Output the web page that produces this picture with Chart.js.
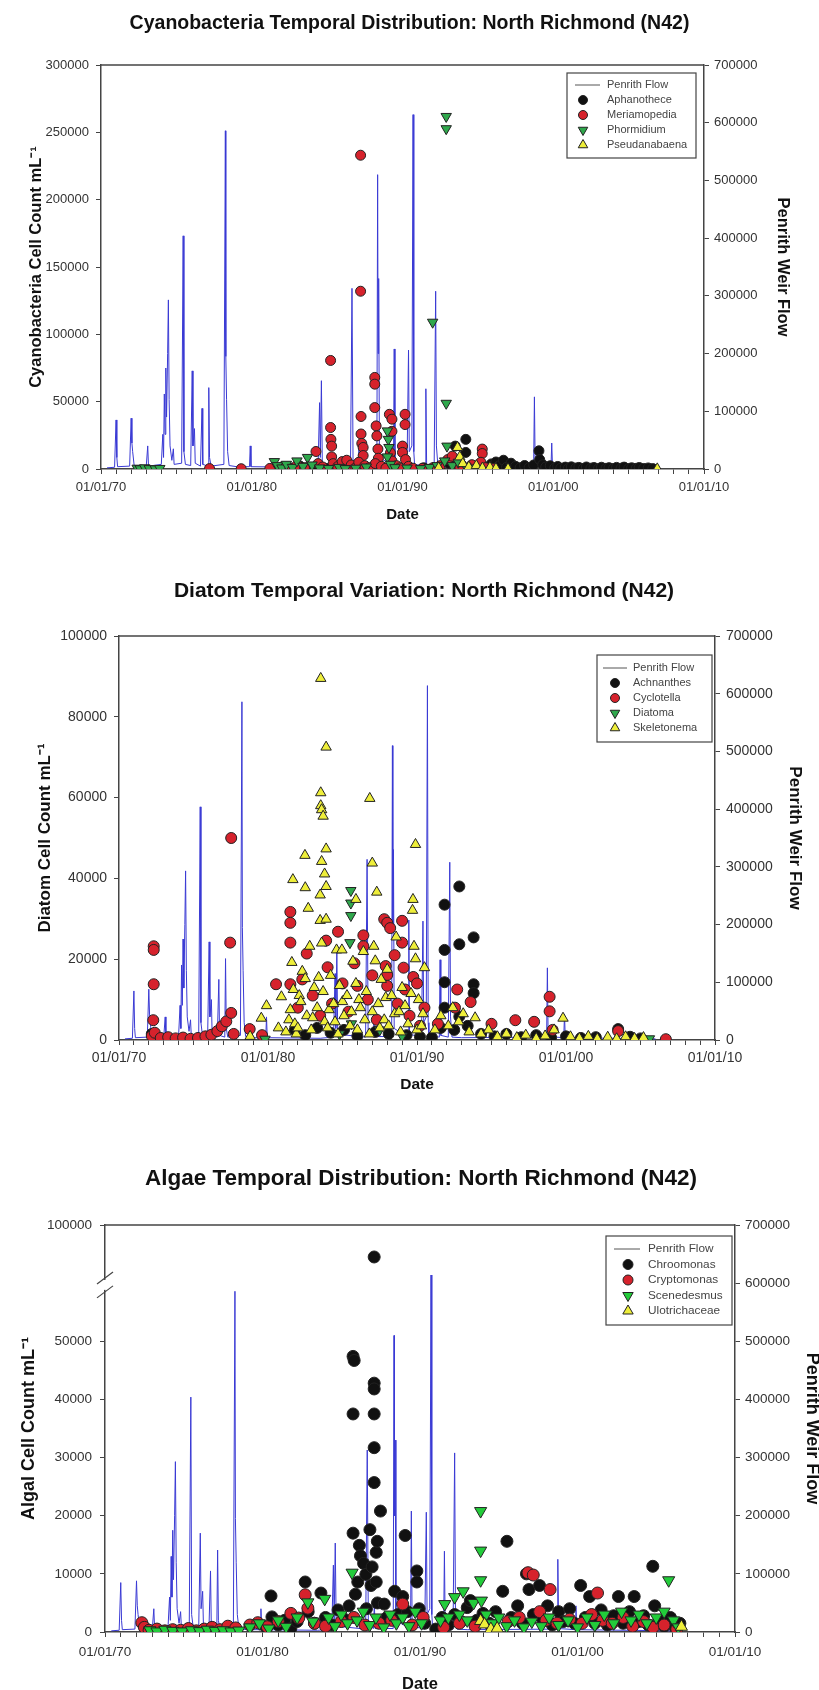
<!DOCTYPE html>
<html>
<head>
<meta charset="utf-8">
<script src="https://cdn.jsdelivr.net/npm/chart.js@4.4.1/dist/chart.umd.min.js"></script>
<style>
  body { margin: 0; background: #fff; width: 819px; height: 1690px; overflow: hidden; position: relative; }
  canvas { position: absolute; left: 0; }
</style>
</head>
<body>
<canvas id="cyano" width="819" height="530" style="top:0px"></canvas>
<canvas id="diatom" width="819" height="570" style="top:530px"></canvas>
<canvas id="algae" width="819" height="590" style="top:1100px"></canvas>
<script>
// x values are decimal years, y values are cells per mL (flow in right axis units)

// PENRITH WEIR FLOW (same series on all three charts)
const penrithFlow = [
  [1970.4, 2000], [1970.9, 3000], [1971.0, 85000], [1971.05, 20000], [1971.1, 4000],
  [1971.9, 5000], [1972.0, 88000], [1972.05, 45000], [1972.1, 30000], [1972.2, 6000],
  [1973.0, 4000], [1973.1, 40000], [1973.15, 5000],
  [1974.0, 8000], [1974.1, 60000], [1974.15, 20000], [1974.2, 130000], [1974.25, 60000], [1974.3, 175000],
  [1974.35, 90000], [1974.42, 200000], [1974.47, 293000], [1974.52, 120000], [1974.58, 40000],
  [1974.7, 15000], [1974.8, 35000], [1974.85, 8000],
  [1975.35, 10000], [1975.45, 404000], [1975.5, 30000], [1975.6, 8000],
  [1975.95, 6000], [1976.05, 170000], [1976.1, 40000], [1976.2, 70000], [1976.25, 10000],
  [1976.6, 5000], [1976.7, 105000], [1976.75, 8000],
  [1977.1, 5000], [1977.15, 141000], [1977.2, 20000], [1977.3, 5000],
  [1978.15, 8000], [1978.25, 586000], [1978.28, 195000], [1978.33, 120000], [1978.4, 30000], [1978.5, 6000],
  [1979.0, 4000], [1979.85, 4000], [1979.9, 40000], [1979.95, 4000], [1983.5, 3000],
  [1984.4, 5000], [1984.5, 115000], [1984.55, 20000], [1984.62, 153000], [1984.68, 10000],
  [1986.55, 5000], [1986.65, 313000], [1986.72, 12000], [1987.05, 6000], [1987.1, 50000], [1987.15, 6000],
  [1988.3, 6000], [1988.35, 510000], [1988.38, 200000], [1988.42, 330000], [1988.47, 20000],
  [1989.4, 5000], [1989.45, 208000], [1989.5, 10000],
  [1990.3, 5000], [1990.4, 206000], [1990.45, 30000], [1990.62, 40000], [1990.7, 614000], [1990.75, 30000], [1990.8, 8000],
  [1991.5, 5000], [1991.55, 139000], [1991.6, 8000],
  [1992.1, 5000], [1992.2, 308000], [1992.25, 40000], [1992.35, 5000],
  [1993.0, 4000], [1998.7, 5000], [1998.75, 125000], [1998.8, 6000],
  [1999.85, 4000], [1999.9, 45000], [1999.95, 4000], [2006.0, 2000]
];

// CYANOBACTERIA
const cyanoAphanothece = [
  [1981.9, 600], [1982.4, 1400], [1982.8, 300], [1983.2, 2200], [1983.6, 800], [1984.1, 1200], [1984.9, 500],
  [1985.7, 900], [1986.5, 400], [1987.7, 700], [1988.9, 300], [1990.5, 500], [1991.4, 900], [1992.5, 1500], [1993.1, 4000],
  [1993.5, 17000], [1994.2, 22000], [1994.2, 12300], [1993.9, 3500], [1994.5, 1800], [1994.9, 600],
  [1995.6, 1500], [1995.9, 3800], [1996.2, 5200], [1996.4, 2400], [1996.7, 6500], [1996.9, 1200], [1997.2, 4300],
  [1997.5, 2000], [1997.8, 900], [1998.1, 2600], [1998.4, 1100], [1998.7, 3000], [1999.05, 13500], [1999.1, 7000],
  [1999.3, 3200], [1999.5, 1500], [1999.8, 2400], [2000.1, 800], [2000.3, 1900], [2000.5, 600], [2000.8, 1400],
  [2001.0, 500], [2001.2, 1600], [2001.5, 700], [2001.7, 1200], [2002.0, 400], [2002.2, 1500], [2002.5, 600],
  [2002.7, 1100], [2003.0, 300], [2003.2, 1300], [2003.5, 500], [2003.7, 1000], [2004.0, 400], [2004.2, 1200],
  [2004.5, 600], [2004.7, 1400], [2005.0, 300], [2005.2, 900], [2005.5, 500], [2005.7, 1100], [2006.0, 400],
  [2006.3, 800], [2006.6, 300]
];
const cyanoMeriamopedia = [
  [1977.2, 300], [1979.3, 200], [1981.2, 400], [1982.0, 1500], [1982.6, 600], [1983.0, 2800], [1983.5, 900],
  [1984.26, 13000], [1984.4, 4000], [1984.7, 1500],
  [1985.23, 80600], [1985.23, 30800], [1985.25, 22000], [1985.3, 17000], [1985.3, 9000], [1985.4, 4000],
  [1985.7, 1800], [1986.0, 5500], [1986.3, 6500], [1986.6, 3000], [1986.9, 1000],
  [1987.22, 233000], [1987.22, 132000], [1987.25, 39000], [1987.25, 26000], [1987.3, 19000], [1987.39, 16000],
  [1987.39, 10000], [1987.1, 5000], [1987.5, 2500], [1987.8, 1000],
  [1988.16, 68000], [1988.16, 63000], [1988.16, 45600], [1988.25, 32000], [1988.3, 24600], [1988.37, 14800],
  [1988.4, 8000], [1988.2, 4000], [1988.6, 2000], [1988.9, 600],
  [1989.13, 40600], [1989.3, 37000], [1989.3, 28000], [1989.2, 12000], [1989.3, 6000], [1989.6, 2500], [1989.8, 800],
  [1990.0, 17000], [1990.0, 12300], [1990.17, 40600], [1990.17, 33000], [1990.2, 7000], [1990.4, 2000], [1990.7, 600],
  [1991.3, 400], [1992.0, 900], [1992.5, 2500], [1993.0, 7000], [1993.3, 9500], [1993.8, 1500], [1994.6, 3200],
  [1995.29, 14800], [1995.29, 11500], [1995.2, 5000], [1995.5, 1000], [1996.0, 300]
];
const cyanoPhormidium = [
  [1972.4, 600], [1972.6, 200], [1972.9, 900], [1973.2, 300], [1973.6, 100], [1973.9, 400],
  [1981.5, 5500], [1981.7, 2500], [1982.0, 800], [1982.3, 3500], [1982.7, 1200], [1983.0, 6000], [1983.4, 2000],
  [1983.7, 8600], [1984.0, 3000], [1984.5, 800], [1985.1, 400], [1985.8, 1200], [1986.2, 300], [1986.9, 600], [1987.6, 1500],
  [1989.0, 28300], [1989.06, 22000], [1989.1, 16000], [1989.0, 9000], [1989.2, 3500], [1989.5, 1000], [1990.3, 700],
  [1991.2, 300], [1991.8, 1200], [1992.0, 109000], [1992.3, 2500],
  [1992.9, 261800], [1992.9, 252700], [1992.9, 48800], [1992.95, 17000], [1992.8, 6000], [1993.3, 2500],
  [1993.7, 5000], [1994.2, 2000], [1994.7, 800]
];
const cyanoPseudanabaena = [
  [1992.4, 800], [1993.65, 16000], [1993.8, 9000], [1994.0, 4000], [1994.4, 1500], [1994.9, 2500], [1995.3, 700],
  [1995.8, 1200], [1996.2, 400], [1997.0, 200], [2006.9, 100]
];

// DIATOMS
const diatomAchnanthes = [
  [1972.2, 1500], [1972.5, 800], [1981.8, 2500], [1982.5, 1200], [1983.3, 3000], [1984.2, 1800], [1985.1, 2500],
  [1986.0, 1000], [1987.2, 2000], [1988.1, 1500], [1989.3, 1200], [1990.2, 800], [1991.0, 600],
  [1991.85, 33500], [1991.85, 22300], [1991.85, 14300], [1991.85, 8000], [1991.6, 3000],
  [1992.84, 38000], [1992.84, 23700], [1992.84, 5800], [1992.5, 2500],
  [1993.8, 25400], [1993.8, 13800], [1993.8, 11600], [1993.4, 3500], [1994.3, 1500], [1995.2, 900], [1996.0, 1500],
  [1997.0, 700], [1998.0, 1200], [1999.0, 600], [2000.0, 900], [2001.0, 500], [2002.0, 700], [2003.5, 2700],
  [2004.3, 800], [2005.0, 400]
];
const diatomCyclotella = [
  [1972.2, 1000], [1972.33, 23200], [1972.33, 22300], [1972.33, 13800], [1972.3, 4900], [1972.4, 1800], [1972.8, 500],
  [1973.3, 700], [1973.8, 400], [1974.3, 600], [1974.8, 300], [1975.3, 500], [1975.8, 900], [1976.2, 1300],
  [1976.6, 2200], [1976.9, 3400], [1977.2, 4600], [1977.46, 24100], [1977.53, 50000], [1977.53, 6700], [1977.7, 1500],
  [1978.77, 2700], [1979.6, 1200], [1980.54, 13800], [1981.5, 31700], [1981.5, 29000], [1981.5, 24100], [1981.5, 13800],
  [1982.0, 8000], [1982.3, 15000], [1982.6, 21400], [1983.0, 11000], [1983.5, 6000], [1983.9, 24600], [1984.0, 18000],
  [1984.3, 9000], [1984.7, 26800], [1985.0, 14000], [1985.4, 7000], [1985.8, 19000], [1986.0, 13400], [1986.4, 25900],
  [1986.4, 23200], [1986.7, 10000], [1987.0, 16000], [1987.3, 5000], [1987.8, 29900], [1988.0, 29000], [1988.2, 27700],
  [1987.9, 18300], [1988.0, 16100], [1988.0, 13400], [1988.5, 21000], [1988.7, 9000], [1989.0, 29500], [1989.0, 24100],
  [1989.1, 17900], [1989.2, 12500], [1989.5, 6000], [1989.75, 15600], [1990.0, 14000], [1990.2, 3500], [1990.5, 8000],
  [1991.4, 4000], [1992.55, 8000], [1992.7, 12500], [1993.6, 9400], [1995.0, 4000], [1996.6, 4900], [1997.86, 4500],
  [1998.9, 10700], [1998.9, 7100], [1999.1, 2500], [2003.5, 2200], [2006.7, 200]
];
const diatomDiatoma = [
  [1979.8, 200], [1984.8, 1500], [1985.56, 37000], [1985.56, 33900], [1985.56, 30800], [1985.5, 24100], [1985.6, 4000],
  [1987.5, 2500], [1989.0, 1000], [2005.6, 300]
];
const diatomSkeletonema = [
  [1978.8, 900], [1979.55, 5400], [1979.9, 8500], [1980.7, 3000], [1980.9, 10700], [1981.2, 2000], [1981.4, 5000],
  [1981.67, 39700], [1981.6, 19200], [1981.7, 12500], [1981.5, 7500], [1981.8, 4000], [1981.9, 1500],
  [1982.0, 3000], [1982.1, 11000], [1982.48, 45700], [1982.5, 37700], [1982.7, 32600], [1982.8, 23200], [1982.3, 17000],
  [1982.5, 15200], [1982.2, 9500], [1982.6, 6000], [1982.9, 2500], [1983.0, 5500], [1983.1, 13000],
  [1983.54, 89500], [1983.9, 72500], [1983.54, 61200], [1983.54, 58000], [1983.6, 57000], [1983.7, 55400], [1983.9, 47300],
  [1983.6, 44200], [1983.8, 41100], [1983.9, 38000], [1983.5, 35900], [1983.5, 29600], [1983.9, 29900], [1983.6, 24000],
  [1983.4, 15500], [1983.7, 12000], [1983.3, 8000], [1983.8, 4500], [1984.0, 3000], [1984.1, 7500],
  [1984.2, 16000], [1984.4, 9000], [1984.5, 4500], [1984.6, 22300], [1984.7, 1500], [1984.8, 13500], [1984.96, 22300],
  [1985.0, 9500], [1985.1, 6000], [1985.3, 11000], [1985.5, 3500], [1985.6, 7000], [1985.7, 19500], [1985.9, 34800],
  [1985.9, 14000], [1986.0, 2500], [1986.1, 10000], [1986.2, 8000], [1986.4, 21900], [1986.5, 5000], [1986.6, 12000],
  [1986.8, 1500], [1986.83, 59800], [1987.0, 43800], [1987.0, 7000], [1987.1, 23200], [1987.2, 19600], [1987.3, 36600],
  [1987.4, 9000], [1987.5, 3000], [1987.6, 15000], [1987.8, 5000], [1987.9, 10500], [1988.0, 17500], [1988.1, 3500],
  [1988.3, 11000], [1988.5, 6500], [1988.6, 25500], [1988.8, 7000], [1988.9, 2000], [1989.0, 13000], [1989.2, 8500],
  [1989.4, 4000], [1989.6, 11500], [1989.73, 34800], [1989.7, 32100], [1989.9, 48400], [1989.8, 23200], [1989.9, 20100],
  [1990.0, 2500], [1990.1, 10000], [1990.3, 3500], [1990.4, 6500], [1990.5, 17900],
  [1991.2, 2500], [1991.6, 6000], [1992.1, 3500], [1992.4, 8000], [1992.8, 4500], [1993.1, 6500], [1993.5, 2000],
  [1993.9, 5500], [1994.3, 1500], [1994.8, 2500], [1995.4, 800], [1996.0, 1500], [1996.7, 600], [1997.3, 1200],
  [1998.0, 400], [1998.6, 1000], [1999.2, 2500], [1999.8, 5400], [2000.3, 800], [2000.9, 400], [2001.5, 900],
  [2002.1, 300], [2002.8, 700], [2003.4, 300], [2004.0, 800], [2004.6, 400], [2005.2, 600]
];

// OTHER ALGAE (values above 60000 sit above the axis break)
const algaeChroomonas = [
  [1980.2, 900], [1980.54, 6200], [1980.6, 2600], [1981.0, 1200], [1981.4, 2000], [1981.8, 600], [1982.2, 1800],
  [1982.71, 8600], [1982.9, 3500], [1983.3, 1500], [1983.71, 6700], [1984.0, 2500], [1984.4, 1200], [1984.8, 3800],
  [1985.2, 2200], [1985.5, 4500], [1985.75, 47400], [1985.82, 46700], [1985.75, 37500], [1985.75, 17000], [1985.9, 6500],
  [1986.05, 8600], [1986.15, 14900], [1986.22, 13100], [1986.42, 11800], [1986.56, 9900], [1986.6, 4000], [1986.82, 17600],
  [1986.89, 8000], [1986.96, 11200], [1987.09, 78000], [1987.09, 42800], [1987.09, 41800], [1987.09, 37500],
  [1987.09, 31700], [1987.09, 25700], [1987.22, 13700], [1987.22, 8600], [1987.29, 15600], [1987.49, 20800],
  [1987.3, 5000], [1987.73, 4800], [1987.9, 2500], [1988.39, 7000], [1988.6, 3000], [1988.9, 6100], [1989.06, 16600],
  [1989.2, 3500], [1989.8, 10500], [1989.8, 8600], [1989.95, 4000], [1990.3, 1500],
  [1991.0, 500], [1991.4, 2500], [1991.8, 1200], [1992.2, 3000], [1992.6, 1800], [1993.0, 4200], [1993.2, 5400],
  [1993.6, 2000], [1994.0, 3200], [1994.4, 1500], [1994.8, 3500], [1995.25, 7000], [1995.52, 15600], [1995.8, 2500],
  [1996.2, 4500], [1996.5, 1500], [1996.76, 10000], [1996.92, 7300], [1997.2, 3000], [1997.59, 8000], [1997.8, 2000],
  [1998.1, 4500], [1998.4, 1200], [1998.8, 3500], [1999.1, 1800], [1999.5, 4000], [1999.8, 1500], [2000.2, 8000],
  [2000.5, 2500], [2000.77, 6100], [2001.1, 1500], [2001.5, 3800], [2001.9, 1200], [2002.3, 2800], [2002.6, 6100],
  [2002.9, 1500], [2003.3, 3500], [2003.6, 6100], [2003.9, 1800], [2004.2, 2800], [2004.5, 1200], [2004.78, 11300],
  [2004.9, 4500], [2005.2, 2000], [2005.5, 1000], [2005.9, 2500], [2006.2, 800], [2006.5, 1500]
];
const algaeCryptomonas = [
  [1972.34, 1600], [1972.5, 800], [1972.8, 300], [1973.3, 500], [1973.8, 200], [1974.3, 400], [1974.8, 300],
  [1975.3, 600], [1975.8, 200], [1976.3, 500], [1976.8, 800], [1977.3, 400], [1977.8, 1000], [1978.3, 700],
  [1979.2, 1200], [1979.7, 1600], [1980.3, 900], [1981.0, 1800], [1981.8, 3200], [1982.3, 2400], [1982.71, 6400],
  [1982.88, 4100], [1983.3, 1500], [1984.0, 1000], [1985.0, 1800], [1985.8, 2500], [1986.5, 1200], [1987.4, 1500],
  [1988.2, 2000], [1988.9, 4800], [1989.5, 1200], [1990.2, 2500], [1991.5, 800], [1992.5, 1500], [1993.5, 1000],
  [1994.5, 1200], [1995.6, 1800], [1996.3, 2500], [1996.86, 10200], [1997.19, 9800], [1997.6, 3500], [1998.0, 2000],
  [1998.26, 7300], [1998.7, 1500], [1999.5, 2200], [2000.3, 1500], [2000.9, 3000], [2001.27, 6700], [2001.6, 2000],
  [2002.2, 1500], [2002.9, 2500], [2003.5, 1000], [2004.2, 1800], [2004.8, 800], [2005.5, 1200], [2006.3, 500]
];
const algaeScenedesmus = [
  [1972.85, 300], [1973.3, 100], [1973.8, 400], [1974.3, 200], [1974.9, 100], [1975.5, 300], [1976.0, 150],
  [1976.5, 400], [1977.0, 200], [1977.5, 300], [1978.0, 100], [1978.5, 250], [1979.2, 800], [1979.8, 1500],
  [1980.4, 600], [1981.0, 2000], [1981.5, 900], [1982.2, 2500], [1982.88, 5100], [1983.2, 1800], [1983.95, 5700],
  [1984.2, 2500], [1984.6, 1000], [1985.0, 3000], [1985.4, 1500], [1985.69, 10200], [1986.0, 2000], [1986.4, 3500],
  [1986.8, 1200], [1987.2, 2500], [1987.7, 800], [1988.1, 3000], [1988.5, 1500], [1988.9, 2500], [1989.3, 1000],
  [1989.7, 3500], [1990.1, 1500], [1991.3, 2000], [1991.57, 4800], [1991.8, 2500], [1992.2, 6000], [1992.5, 3000],
  [1992.74, 7000], [1993.0, 2000], [1993.4, 5000], [1993.85, 20800], [1993.85, 14000], [1993.85, 8900], [1993.9, 5400],
  [1994.2, 3000], [1994.6, 1500], [1995.0, 2500], [1995.5, 1000], [1996.0, 2000], [1996.6, 800], [1997.1, 1800],
  [1997.7, 1000], [1998.2, 2500], [1998.8, 1200], [1999.4, 2000], [2000.0, 800], [2000.6, 2500], [2001.1, 1200],
  [2001.7, 3000], [2002.3, 1500], [2002.8, 3500], [2003.4, 2000], [2003.9, 3000], [2004.4, 1500], [2005.0, 2500],
  [2005.5, 3500], [2005.79, 8900], [2006.1, 2000], [2006.4, 800]
];
const algaeUlotrichaceae = [
  [1993.85, 1900], [1994.1, 1300], [1994.5, 500], [1994.9, 600], [2006.6, 900]
];

// algae left axis: 0-60000 linear, then a break up to 100000
const BREAK_AT = 60000;
const algaeTicks = [0, 10000, 20000, 30000, 40000, 50000, 70000];
const brk = v => v > BREAK_AT ? BREAK_AT + (v - BREAK_AT) / 4 : v;

const FONT = '"Liberation Sans", Arial, Helvetica, sans-serif';
Chart.defaults.font.family = FONT;

function pts(list, fn) {
  return list.map(p => ({ x: p[0], y: fn ? fn(p[1]) : p[1] }));
}

function dateLabel(v) {
  const y = Math.round(v);
  if (y % 10 !== 0) return '';
  return '01/01/' + String(y % 100).padStart(2, '0');
}

function flowSet() {
  return {
    type: 'line', label: 'Penrith Flow', data: pts(penrithFlow), yAxisID: 'y1',
    borderColor: '#3a3ad4', borderWidth: 1, pointRadius: 0, showLine: true, tension: 0, order: 10
  };
}

function species(label, list, style, fill, order, r, fn) {
  return {
    type: 'scatter', label: label, data: pts(list, fn), yAxisID: 'y',
    pointStyle: style === 'down' ? 'triangle' : style,
    pointRotation: style === 'down' ? 180 : 0,
    pointRadius: style === 'circle' ? r : r + 1,
    pointBackgroundColor: fill, pointBorderColor: '#222', pointBorderWidth: 1,
    order: order
  };
}

// top edge of the plot frame
const frameTop = {
  id: 'frameTop',
  afterDraw(chart) {
    const { ctx, chartArea: a } = chart;
    ctx.save();
    ctx.strokeStyle = '#444';
    ctx.lineWidth = 1.5;
    ctx.beginPath();
    ctx.moveTo(a.left, a.top);
    ctx.lineTo(a.right, a.top);
    ctx.stroke();
    ctx.restore();
  }
};

function marker(ctx, ds, x, y, r) {
  ctx.fillStyle = ds.pointBackgroundColor;
  ctx.strokeStyle = ds.pointBorderColor;
  ctx.lineWidth = 1;
  ctx.beginPath();
  if (ds.pointStyle === 'circle') {
    ctx.arc(x, y, r, 0, Math.PI * 2);
  } else {
    let rad = (ds.pointRotation || 0) * Math.PI / 180;
    const R = r + 1;
    ctx.moveTo(x + Math.sin(rad) * R, y - Math.cos(rad) * R);
    rad += 2 * Math.PI / 3;
    ctx.lineTo(x + Math.sin(rad) * R, y - Math.cos(rad) * R);
    rad += 2 * Math.PI / 3;
    ctx.lineTo(x + Math.sin(rad) * R, y - Math.cos(rad) * R);
    ctx.closePath();
  }
  ctx.fill();
  ctx.stroke();
}

// boxed legend inside the plot, top right
const boxLegend = {
  id: 'boxLegend',
  afterDraw(chart, args, o) {
    const { ctx, chartArea: a } = chart;
    const x0 = a.right - o.right - o.width;
    const y0 = a.top + o.top;
    ctx.save();
    ctx.fillStyle = '#fff';
    ctx.fillRect(x0, y0, o.width, o.height);
    ctx.strokeStyle = '#444';
    ctx.lineWidth = 1.2;
    ctx.strokeRect(x0, y0, o.width, o.height);
    ctx.font = o.size + 'px ' + FONT;
    ctx.textBaseline = 'middle';
    chart.data.datasets.forEach((ds, i) => {
      const y = y0 + o.first + i * o.step;
      if (ds.type === 'line') {
        ctx.strokeStyle = '#555';
        ctx.lineWidth = 1;
        ctx.beginPath();
        ctx.moveTo(x0 + o.lineFrom, y);
        ctx.lineTo(x0 + o.lineTo, y);
        ctx.stroke();
      } else {
        marker(ctx, ds, x0 + o.markX, y, o.radius);
      }
      ctx.fillStyle = '#444';
      ctx.fillText(ds.label, x0 + o.textX, y);
    });
    ctx.restore();
  }
};

// break marks on the algae left axis
const axisBreak = {
  id: 'axisBreak',
  afterDraw(chart) {
    const { ctx } = chart;
    const s = chart.scales.y;
    const x = chart.chartArea.left;
    const ya = s.getPixelForValue(58500);
    const yb = s.getPixelForValue(60900);
    ctx.save();
    ctx.fillStyle = '#fff';
    ctx.fillRect(x - 3, yb + 2, 6, ya - yb - 4);
    ctx.strokeStyle = '#444';
    ctx.lineWidth = 1.2;
    [ya, yb].forEach(y => {
      ctx.beginPath();
      ctx.moveTo(x - 8, y + 6);
      ctx.lineTo(x + 8, y - 6);
      ctx.stroke();
    });
    ctx.restore();
  }
};

function buildChart(id, c) {
  const H = document.getElementById(id).height;
  const padL = c.padLeft || 0;
  const leftAxis = {
    position: 'left', min: 0, max: c.yMax,
    afterFit: s => { s.width = c.area.left - padL; },
    border: { color: '#444', width: 1.5 },
    grid: { drawOnChartArea: false, color: '#444', tickLength: 5 },
    ticks: { stepSize: c.yStep, color: '#333', padding: c.yPad, font: { size: c.tick }, callback: c.yLabel || (v => String(v)) },
    title: { display: true, text: c.yTitle, color: '#111', font: { size: c.axisTitle, weight: 'bold' }, padding: { top: c.yTitlePad, bottom: 0 } }
  };
  if (c.yTicks) leftAxis.afterBuildTicks = s => { s.ticks = c.yTicks.map(v => ({ value: v })); };

  return new Chart(id, {
    type: 'scatter',
    data: { datasets: c.datasets },
    options: {
      responsive: false,
      animation: false,
      layout: { padding: { left: padL, right: 0, top: 0, bottom: 0 } },
      plugins: {
        legend: { display: false },
        tooltip: { enabled: false },
        title: {
          display: true, text: c.title, color: '#111',
          font: { size: c.titleSize, weight: 'bold' }, padding: c.titlePad
        },
        boxLegend: c.legend
      },
      scales: {
        x: {
          type: 'linear', min: 1970, max: 2010,
          afterFit: s => { s.height = H - c.area.bottom; },
          border: { color: '#444', width: 1.5 },
          grid: { drawOnChartArea: false, color: '#444', tickLength: 5 },
          ticks: { stepSize: 1, autoSkip: false, maxRotation: 0, color: '#333', padding: c.xPad, font: { size: c.tick }, callback: dateLabel },
          title: { display: true, text: 'Date', color: '#111', font: { size: c.dateSize, weight: 'bold' }, padding: { top: 0, bottom: c.datePad } }
        },
        y: leftAxis,
        y1: {
          position: 'right', min: 0, max: 700000,
          afterFit: s => { s.width = 819 - c.area.right; },
          border: { color: '#444', width: 1.5 },
          grid: { drawOnChartArea: false, color: '#444', tickLength: 5 },
          ticks: { stepSize: 100000, color: '#333', padding: c.y1Pad, font: { size: c.tick }, callback: v => String(v) },
          title: { display: true, text: 'Penrith Weir Flow', color: '#111', font: { size: c.axisTitle, weight: 'bold' }, padding: { top: c.y1TitlePad, bottom: 0 } }
        }
      }
    },
    plugins: c.breakAxis ? [frameTop, axisBreak, boxLegend] : [frameTop, boxLegend]
  });
}

// CYANOBACTERIA CHART
buildChart('cyano', {
  title: 'Cyanobacteria Temporal Distribution: North Richmond (N42)',
  titleSize: 19.5, titlePad: { top: 12, bottom: 29.6 },
  area: { left: 101, right: 704, bottom: 469 },
  tick: 13, xPad: 6, yPad: 7, y1Pad: 5,
  axisTitle: 16.5, yTitlePad: 27, y1TitlePad: 27, dateSize: 15, datePad: 6,
  yMax: 300000, yStep: 50000,
  yTitle: 'Cyanobacteria Cell Count mL⁻¹',
  legend: { width: 129, height: 85, right: 8, top: 8, first: 12, step: 15, markX: 16, textX: 40, lineFrom: 8, lineTo: 33, size: 11, radius: 4.5 },
  datasets: [
    flowSet(),
    species('Aphanothece', cyanoAphanothece, 'circle', '#111111', 4, 5),
    species('Meriamopedia', cyanoMeriamopedia, 'circle', '#d6222c', 3, 5),
    species('Phormidium', cyanoPhormidium, 'down', '#2fa84c', 2, 5),
    species('Pseudanabaena', cyanoPseudanabaena, 'triangle', '#eeee3a', 1, 5)
  ]
});

// DIATOM CHART
buildChart('diatom', {
  title: 'Diatom Temporal Variation: North Richmond (N42)',
  titleSize: 21, titlePad: { top: 48.4, bottom: 32.4 },
  padLeft: 29,
  area: { left: 119, right: 715, bottom: 510 },
  tick: 14, xPad: 5, yPad: 7, y1Pad: 6,
  axisTitle: 17, yTitlePad: 6, y1TitlePad: 14, dateSize: 15.5, datePad: 5.7,
  yMax: 100000, yStep: 20000,
  yTitle: 'Diatom Cell Count mL⁻¹',
  legend: { width: 115, height: 87, right: 3, top: 19, first: 13, step: 15, markX: 18, textX: 36, lineFrom: 6, lineTo: 30, size: 11, radius: 4.5 },
  datasets: [
    flowSet(),
    species('Achnanthes', diatomAchnanthes, 'circle', '#111111', 4, 5.5),
    species('Cyclotella', diatomCyclotella, 'circle', '#d6222c', 3, 5.5),
    species('Diatoma', diatomDiatoma, 'down', '#2fa84c', 2, 5),
    species('Skeletonema', diatomSkeletonema, 'triangle', '#eeee3a', 1, 5)
  ]
});

// ALGAE CHART
buildChart('algae', {
  title: 'Algae Temporal Distribution: North Richmond (N42)',
  titleSize: 22.5, titlePad: { top: 65.5, bottom: 32.5 },
  padLeft: 23,
  area: { left: 105, right: 735, bottom: 532 },
  tick: 13.5, xPad: 7, yPad: 8, y1Pad: 5,
  axisTitle: 18, yTitlePad: -4.8, y1TitlePad: -3.8, dateSize: 16.5, datePad: -3.9,
  yMax: 70000, yStep: 10000, yTicks: algaeTicks,
  yLabel: v => v === 70000 ? '100000' : String(v),
  yTitle: 'Algal Cell Count mL⁻¹',
  breakAxis: true,
  legend: { width: 126, height: 89, right: 3, top: 11, first: 13, step: 15.5, markX: 22, textX: 42, lineFrom: 8, lineTo: 34, size: 11.8, radius: 5 },
  datasets: [
    flowSet(),
    species('Chroomonas', algaeChroomonas, 'circle', '#111111', 4, 6, brk),
    species('Cryptomonas', algaeCryptomonas, 'circle', '#d6222c', 3, 6, brk),
    species('Scenedesmus', algaeScenedesmus, 'down', '#22cc3a', 2, 6, brk),
    species('Ulotrichaceae', algaeUlotrichaceae, 'triangle', '#eeee3a', 1, 6, brk)
  ]
});
</script>
</body>
</html>
